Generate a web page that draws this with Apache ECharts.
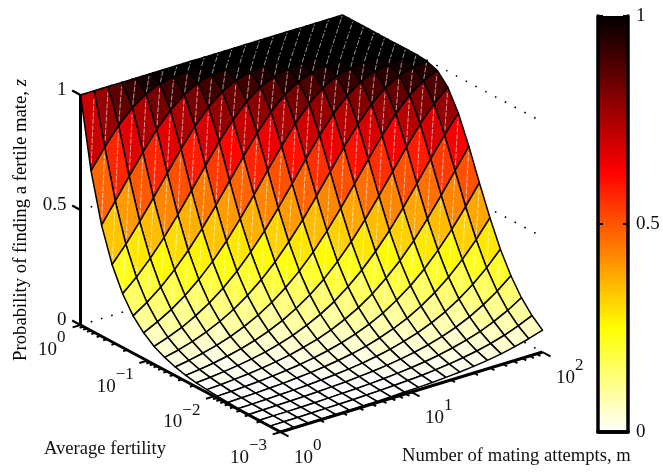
<!DOCTYPE html>
<html><head><meta charset="utf-8">
<style>html,body{margin:0;padding:0;background:#fff}#c{width:663px;height:473px}</style>
<script src="https://cdn.jsdelivr.net/npm/echarts@6/dist/echarts.min.js"></script>
</head><body><div id="c"></div>
<script>
// log10 of the grid positions
var logM = [0,.105,.211,.316,.421,.526,.632,.737,.842,.947,1.053,1.158,1.263,1.368,1.474,1.579,1.684,1.789,1.895,2];
var logF = [3,2.842,2.684,2.526,2.368,2.211,2.053,1.895,1.737,1.579,1.421,1.263,1.105,.947,.789,.632,.474,.316,.158,0]; // -log10(f)
// z[fRow][mColumn], read from the surface
var z00=[.001,.001,.002,.002,.003,.003,.004,.005,.007,.009,.011,.014,.018,.023,.029,.037,.047,.060,.076,.095];
var z01=[.001,.002,.002,.003,.004,.005,.006,.008,.010,.013,.016,.020,.026,.033,.042,.053,.067,.085,.107,.134];
var z02=[.002,.003,.003,.004,.005,.007,.009,.011,.014,.018,.023,.029,.037,.047,.060,.076,.095,.120,.150,.187];
var z03=[.003,.004,.005,.006,.008,.010,.013,.016,.021,.026,.033,.042,.053,.067,.085,.107,.134,.168,.209,.258];
var z04=[.004,.005,.007,.009,.011,.014,.018,.023,.029,.037,.047,.060,.076,.095,.120,.150,.187,.232,.286,.349];
var z05=[.006,.008,.010,.013,.016,.021,.026,.033,.042,.053,.067,.085,.107,.134,.168,.209,.258,.316,.384,.461];
var z06=[.009,.011,.014,.018,.023,.029,.037,.047,.060,.076,.096,.120,.150,.188,.233,.286,.350,.422,.503,.589];
var z07=[.013,.016,.021,.026,.033,.042,.053,.068,.085,.107,.135,.168,.209,.259,.317,.385,.462,.546,.635,.723];
var z08=[.018,.023,.030,.038,.048,.060,.076,.096,.121,.151,.188,.234,.288,.351,.423,.504,.591,.680,.766,.843];
var z09=[.026,.033,.042,.054,.068,.086,.108,.136,.170,.211,.260,.319,.387,.464,.549,.637,.725,.807,.877,.931];
var z10=[.038,.048,.061,.077,.097,.122,.153,.190,.236,.290,.354,.427,.508,.595,.684,.769,.846,.908,.952,.979];
var z11=[.055,.069,.087,.110,.138,.172,.214,.264,.323,.392,.469,.554,.642,.730,.812,.881,.934,.968,.988,.996];
var z12=[.078,.099,.124,.156,.194,.240,.295,.360,.433,.515,.602,.691,.776,.852,.912,.955,.981,.993,.998,1];
var z13=[.113,.142,.177,.220,.271,.331,.401,.480,.565,.654,.741,.821,.889,.939,.972,.989,.997,.999,1,1];
var z14=[.162,.202,.250,.307,.373,.449,.532,.620,.708,.792,.865,.922,.961,.984,.995,.999,1,1,1,1];
var z15=[.234,.287,.351,.423,.504,.591,.680,.766,.843,.905,.950,.978,.992,.998,1,1,1,1,1,1];
var z16=[.336,.406,.486,.571,.660,.747,.827,.893,.942,.973,.990,.997,.999,1,1,1,1,1,1,1];
var z17=[.483,.569,.658,.745,.825,.891,.941,.973,.990,.997,.999,1,1,1,1,1,1,1,1,1];
var z18=[.695,.780,.855,.914,.956,.982,.994,.998,1,1,1,1,1,1,1,1,1,1,1,1];
var z19=[1,1,1,1,1,1,1,1,1,1,1,1,1,1,1,1,1,1,1,1];
var Z=[z00,z01,z02,z03,z04,z05,z06,z07,z08,z09,z10,z11,z12,z13,z14,z15,z16,z17,z18,z19];

var zTicks=[0,.5,1], zTickLabels=['0','0.5','1'];
var fDecades=[0,1,2,3], fExp=['0','\u22121','\u22122','\u22123'];
var mDecades=[0,1,2], mExp=['0','1','2'];
var minorMul=[2,3,4,5,6,7,8,9];
var cbValues=[0,.25,.625,1], cbColors=['#ffffff','#ffff00','#ff0000','#000000'];

var SERIF='"Liberation Serif","Times New Roman",serif';
function project(lm,lf,zv){return [80.5+131*lm+66.67*lf, 325-40*lm+35.67*lf-230*zv];}
function cmap(v){
  var t=1-v, r=Math.min(1,t/.375), g=Math.max(0,Math.min(1,(t-.375)/.375)), b=Math.max(0,Math.min(1,(t-.75)/.25));
  return 'rgb('+Math.round(r*255)+','+Math.round(g*255)+','+Math.round(b*255)+')';
}
function flat(v){var idx=Math.min(63,Math.floor(v*64));return cmap(idx/63);}

var cells=[];
for(var i=18;i>=0;i--)for(var j=18;j>=0;j--)cells.push([j,i,Z[i][j]]);

// axis line / tick segments in box coordinates
var segs=[];
segs.push({a:[0,0,0],b:[0,0,1],w:3});
segs.push({a:[0,0,0],b:[0,3,0],w:3});
segs.push({a:[0,3,0],b:[2,3,0],w:3});
zTicks.forEach(function(t){segs.push({a:[0,0,t],b:[0,-.125,t],w:2.2});});
function ftick(lf,len){segs.push({a:[0,lf,0],b:[-len,lf,0],w:2});}
function mtick(lm,len){segs.push({a:[lm,3,0],b:[lm,3+len,0],w:2});}
fDecades.forEach(function(d){
  ftick(d,.06);
  if(d<3)minorMul.forEach(function(k){ftick(d+1-Math.log10(k),.03);});
});
mDecades.forEach(function(d){
  mtick(d,.12);
  if(d<2)minorMul.forEach(function(k){mtick(d+Math.log10(k),.06);});
});

var wallLines=[];
zTicks.forEach(function(t){
  wallLines.push({a:[0,0,t],b:[2,0,t],gap:9.3,off:0});
  wallLines.push({a:[2,3,t],b:[2,0,t],gap:9.7,off:3.2});
});

var tickLabels=[];
fDecades.forEach(function(d,k){tickLabels.push({p:[0,d,0],dx:k==0?-33:-41,dy:k==0?25:26,exp:fExp[k]});});
mDecades.forEach(function(d,k){tickLabels.push({p:[d,3,0],dx:23,dy:26,exp:mExp[k]});});

function idx(arr){return arr.map(function(_,k){return [k,0];});}
var cartesian={coordinateSystem:'cartesian2d',xAxisIndex:0,yAxisIndex:0,silent:true,animation:false,clip:false};
function S(o){for(var k in cartesian)if(!(k in o))o[k]=cartesian[k];o.type='custom';return o;}

var option={
  animation:false,
  backgroundColor:'#fff',
  grid:[{left:0,top:0,width:663,height:473,show:false},{left:598,top:16,width:30,height:416,show:false}],
  xAxis:[
    {gridIndex:0,type:'value',min:0,max:663,show:false},
    {gridIndex:1,type:'value',min:0,max:1,position:'bottom',z:5,axisLine:{lineStyle:{color:'#000',width:3.5}},axisTick:{show:false},axisLabel:{show:false},splitLine:{show:false}},
    {gridIndex:1,type:'value',min:0,max:1,position:'top',z:5,axisLine:{lineStyle:{color:'#000',width:3.5}},axisTick:{show:false},axisLabel:{show:false},splitLine:{show:false}}
  ],
  yAxis:[
    {gridIndex:0,type:'value',min:0,max:473,inverse:true,show:false},
    {gridIndex:1,type:'value',min:0,max:1,interval:.5,position:'left',z:5,axisLine:{onZero:false,lineStyle:{color:'#000',width:3.5}},axisTick:{inside:true,length:5,lineStyle:{color:'#000',width:2}},axisLabel:{show:false},splitLine:{show:false}},
    {gridIndex:1,type:'value',min:0,max:1,interval:.5,position:'right',z:5,axisLine:{onZero:false,lineStyle:{color:'#000',width:3.5}},axisTick:{inside:true,length:5,lineStyle:{color:'#000',width:2}},
      axisLabel:{show:true,fontFamily:SERIF,fontSize:19,color:'#111',margin:8,formatter:function(v){return v===0?'0':v===1?'1':'0.5';}},splitLine:{show:false}}
  ],
  series:[
    S({name:'walls',data:idx(wallLines),renderItem:function(p,api){
      var w=wallLines[p.dataIndex],a=api.coord(project.apply(null,w.a)),b=api.coord(project.apply(null,w.b));
      return {type:'line',shape:{x1:a[0],y1:a[1],x2:b[0],y2:b[1]},style:{stroke:'#000',lineWidth:1.6,lineDash:[1.6,w.gap-.2],lineDashOffset:w.off,fill:null}};
    }}),
    S({name:'surface',data:cells,encode:{x:0,y:1},renderItem:function(p,api){
      var j=api.value(0),i=api.value(1),c=api.value(2);
      function P(ii,jj){return api.coord(project(logM[jj],logF[ii],Z[ii][jj]));}
      var a=P(i,j),b=P(i,j+1),d=P(i+1,j+1),e=P(i+1,j);
      var s=[a[0]+(d[0]-a[0])*.1,a[1]+(d[1]-a[1])*.1],t=[a[0]+(d[0]-a[0])*.9,a[1]+(d[1]-a[1])*.9];
      return {type:'group',children:[
        {type:'polygon',shape:{points:[a,b,d,e]},style:{fill:flat(c),stroke:'#000',lineWidth:1.5,lineJoin:'round'}},
        {type:'line',shape:{x1:s[0],y1:s[1],x2:t[0],y2:t[1]},style:{stroke:'#fff',lineWidth:.7,opacity:.85,lineDash:[5,1.5],fill:null}}
      ]};
    }}),
    S({name:'axes',data:idx(segs),renderItem:function(p,api){
      var w=segs[p.dataIndex],a=api.coord(project.apply(null,w.a)),b=api.coord(project.apply(null,w.b));
      return {type:'line',shape:{x1:a[0],y1:a[1],x2:b[0],y2:b[1]},style:{stroke:'#000',lineWidth:w.w,fill:null}};
    }}),
    S({name:'tickLabels',data:idx(tickLabels),renderItem:function(p,api){
      var w=tickLabels[p.dataIndex],a=api.coord(project.apply(null,w.p));
      return {type:'group',children:[
        {type:'text',style:{text:'10',x:a[0]+w.dx,y:a[1]+w.dy,align:'center',verticalAlign:'middle',font:'19px '+SERIF,fill:'#111'}},
        {type:'text',style:{text:w.exp,x:a[0]+w.dx+9.5,y:a[1]+w.dy-12,align:'left',verticalAlign:'middle',font:'17px '+SERIF,fill:'#111'}}
      ]};
    }}),
    S({name:'zLabels',data:idx(zTicks),renderItem:function(p,api){
      var k=p.dataIndex,a=api.coord(project(0,0,zTicks[k]));
      return {type:'text',style:{text:zTickLabels[k],x:a[0]-14,y:a[1]-5,align:'right',verticalAlign:'middle',font:'19px '+SERIF,fill:'#111'}};
    }}),
    S({name:'colorbar',xAxisIndex:1,yAxisIndex:1,data:[[0,0]],renderItem:function(p,api){
      var a=api.coord([0,1]),b=api.coord([1,0]);
      return {type:'rect',shape:{x:a[0],y:a[1],width:b[0]-a[0],height:b[1]-a[1]},style:{fill:new echarts.graphic.LinearGradient(0,1,0,0,cbValues.map(function(v,k){return {offset:v,color:cbColors[k]};}))}};
    }})
  ],
  graphic:[
    {type:'text',x:21,y:220,rotation:Math.PI/2,style:{text:'{a|Probability of finding a fertile mate, }{b|z}',align:'center',verticalAlign:'middle',rich:{a:{font:'18.7px '+SERIF,color:'#111'},b:{font:'italic 18.7px '+SERIF,color:'#111'}}}},
    {type:'text',x:44,y:449,style:{text:'Average fertility',align:'left',verticalAlign:'middle',font:'18.6px '+SERIF,fill:'#111'}},
    {type:'text',x:402,y:456,style:{text:'Number of mating attempts, m',align:'left',verticalAlign:'middle',font:'18.6px '+SERIF,fill:'#111'}}
  ]
};
echarts.init(document.getElementById('c'),null,{renderer:'canvas'}).setOption(option);
</script></body></html>
